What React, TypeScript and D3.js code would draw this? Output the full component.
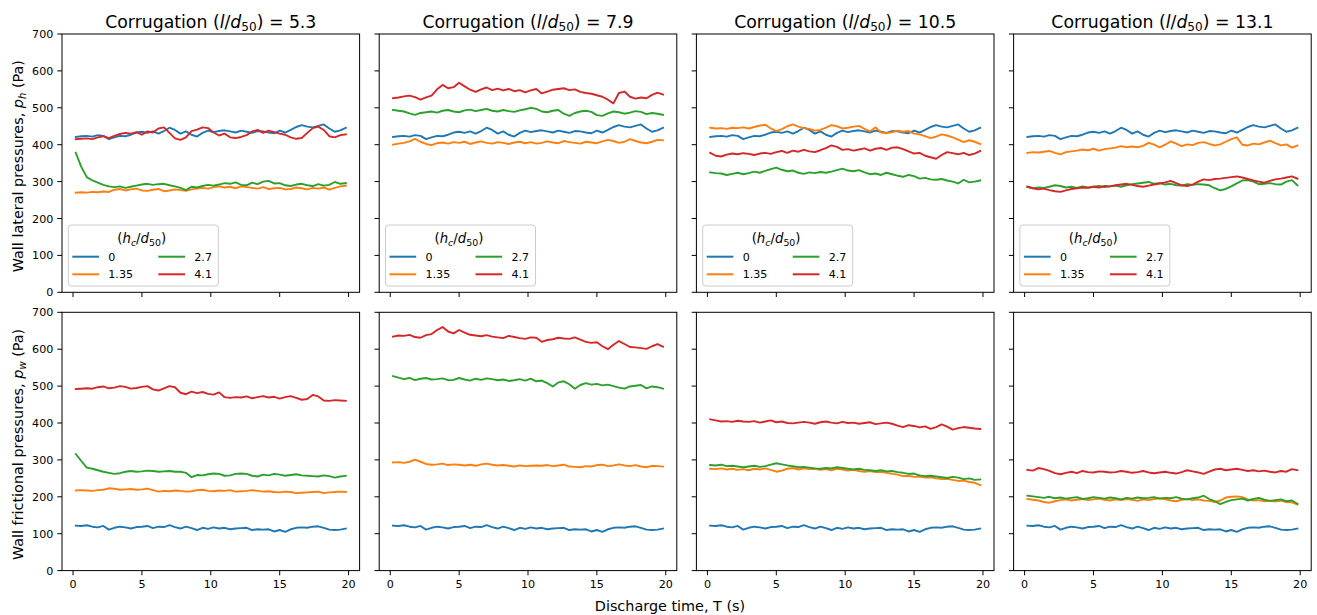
import React from "react";
import * as d3 from "d3";

// Discharge time (s)
const T = [0.2, 0.6, 1.0, 1.4, 1.8, 2.2, 2.6, 3.0, 3.4, 3.8, 4.2, 4.6, 5.0, 5.4, 5.8, 6.2, 6.6, 7.0, 7.4, 7.8, 8.2, 8.6, 9.0, 9.4, 9.8, 10.2, 10.6, 11.0, 11.4, 11.8, 12.2, 12.6, 13.0, 13.4, 13.8, 14.2, 14.6, 15.0, 15.4, 15.8, 16.2, 16.6, 17.0, 17.4, 17.8, 18.2, 18.6, 19.0, 19.4, 19.8];

const CORRUGATIONS = ["5.3", "7.9", "10.5", "13.1"];
const HC_LABELS = ["0", "1.35", "2.7", "4.1"];
const COLORS = ["#1f77b4", "#ff7f0e", "#2ca02c", "#d62728"];
const Y_TICKS = [0, 100, 200, 300, 400, 500, 600, 700];
const X_TICKS = [0, 5, 10, 15, 20];

// hc/d50 = 0 (smooth reference, same in every column)
const LAT_HC0 = [421, 423, 424, 422, 426, 424, 415, 420, 424, 423, 427, 433, 435, 432, 436, 430, 437, 446, 440, 430, 436, 427, 422, 432, 438, 434, 437, 439, 436, 433, 438, 435, 432, 437, 436, 433, 431, 438, 433, 440, 448, 453, 449, 447, 451, 455, 444, 435, 439, 446];
const FRIC_HC0 = [122, 121, 123, 119, 117, 121, 111, 116, 119, 117, 114, 118, 119, 121, 115, 119, 118, 123, 118, 114, 119, 115, 110, 116, 113, 117, 114, 116, 112, 114, 115, 116, 110, 112, 111, 112, 106, 110, 105, 112, 116, 117, 116, 119, 120, 116, 111, 110, 111, 114];

// Lateral pressures
const LAT_53_135 = [270, 271, 270, 272, 271, 273, 272, 278, 280, 276, 279, 281, 276, 275, 278, 280, 274, 276, 279, 277, 275, 279, 281, 283, 281, 285, 287, 284, 286, 282, 287, 285, 283, 281, 285, 280, 282, 283, 279, 280, 284, 282, 279, 283, 281, 284, 278, 283, 287, 289];
const LAT_53_27 = [378, 340, 312, 303, 297, 291, 287, 285, 287, 283, 286, 289, 292, 294, 291, 293, 294, 290, 287, 283, 277, 286, 284, 288, 291, 289, 292, 296, 294, 298, 291, 290, 297, 293, 300, 302, 295, 296, 290, 288, 292, 294, 290, 288, 293, 289, 291, 299, 294, 296];
const LAT_53_41 = [415, 416, 417, 415, 420, 423, 418, 424, 429, 432, 430, 434, 427, 436, 433, 444, 447, 432, 417, 413, 420, 437, 441, 447, 445, 433, 425, 430, 420, 418, 421, 426, 436, 440, 432, 438, 434, 430, 427, 420, 416, 418, 432, 445, 449, 440, 423, 420, 426, 428];

const LAT_79_135 = [400, 403, 405, 409, 416, 408, 402, 399, 404, 406, 403, 407, 405, 408, 402, 406, 409, 405, 403, 407, 405, 402, 406, 408, 404, 407, 403, 405, 409, 406, 404, 410, 407, 405, 403, 408, 406, 404, 409, 413, 410, 405, 408, 415, 410, 406, 404, 408, 413, 412];
const LAT_79_27 = [494, 492, 490, 485, 481, 486, 488, 490, 487, 492, 494, 490, 488, 493, 495, 491, 494, 497, 492, 490, 494, 491, 489, 493, 496, 500, 497, 490, 488, 492, 494, 484, 478, 486, 490, 492, 489, 480, 478, 485, 490, 488, 484, 487, 491, 489, 483, 486, 484, 481];
const LAT_79_41 = [526, 528, 531, 533, 529, 522, 528, 533, 550, 562, 553, 556, 568, 558, 549, 543, 550, 555, 548, 552, 547, 551, 545, 548, 542, 547, 551, 539, 544, 549, 551, 553, 548, 550, 543, 540, 538, 534, 530, 522, 512, 540, 544, 530, 525, 528, 526, 535, 541, 536];

const LAT_105_135 = [446, 444, 445, 443, 446, 445, 447, 444, 448, 452, 454, 444, 437, 442, 450, 455, 449, 445, 443, 438, 440, 446, 453, 450, 444, 446, 449, 451, 443, 436, 447, 433, 431, 434, 438, 435, 437, 430, 428, 423, 418, 422, 428, 425, 420, 414, 407, 412, 408, 402];
const LAT_105_27 = [325, 323, 322, 318, 321, 324, 320, 323, 327, 324, 329, 334, 338, 332, 328, 330, 324, 321, 325, 323, 326, 324, 327, 331, 335, 330, 328, 331, 325, 320, 322, 318, 324, 320, 316, 313, 318, 315, 308, 310, 306, 305, 307, 303, 300, 295, 305, 298, 300, 303];
const LAT_105_41 = [378, 370, 368, 373, 376, 374, 377, 375, 372, 376, 378, 375, 380, 383, 378, 384, 381, 386, 382, 380, 385, 391, 398, 394, 386, 388, 384, 387, 390, 384, 389, 391, 386, 392, 393, 388, 382, 376, 378, 370, 366, 362, 372, 380, 377, 374, 378, 372, 376, 383];

const LAT_131_135 = [378, 380, 379, 381, 383, 378, 374, 380, 382, 384, 387, 385, 389, 384, 388, 390, 392, 396, 393, 395, 393, 397, 405, 400, 393, 400, 409, 403, 396, 401, 399, 405, 407, 402, 398, 401, 408, 415, 420, 400, 398, 403, 401, 406, 411, 404, 398, 401, 392, 398];
const LAT_131_27 = [286, 282, 284, 283, 286, 290, 288, 284, 286, 283, 287, 284, 286, 288, 285, 287, 289, 286, 290, 293, 295, 297, 299, 294, 296, 292, 294, 290, 289, 293, 291, 293, 292, 290, 282, 276, 280, 287, 295, 303, 304, 300, 293, 294, 296, 293, 292, 300, 304, 290];
const LAT_131_41 = [286, 282, 279, 281, 277, 274, 272, 276, 280, 282, 284, 283, 286, 284, 288, 287, 290, 292, 294, 291, 288, 286, 289, 292, 295, 298, 302, 296, 290, 288, 292, 300, 306, 304, 307, 308, 310, 312, 314, 311, 307, 303, 300, 297, 302, 306, 308, 311, 314, 308];

// Frictional pressures
const FRIC_53_135 = [217, 218, 217, 216, 218, 219, 223, 222, 219, 220, 221, 219, 220, 222, 218, 214, 216, 215, 217, 216, 214, 215, 218, 219, 216, 215, 217, 216, 218, 214, 215, 216, 218, 216, 214, 215, 213, 212, 214, 213, 210, 211, 212, 213, 214, 210, 212, 213, 214, 213];
const FRIC_53_27 = [316, 297, 279, 276, 272, 268, 265, 262, 264, 268, 270, 268, 269, 271, 270, 268, 269, 270, 268, 268, 265, 253, 259, 258, 261, 263, 262, 257, 258, 262, 263, 262, 257, 255, 260, 258, 262, 260, 257, 259, 261, 258, 257, 256, 255, 258, 256, 252, 255, 257];
const FRIC_53_41 = [492, 493, 494, 493, 497, 499, 494, 496, 500, 498, 493, 495, 498, 500, 491, 488, 494, 500, 497, 482, 478, 485, 481, 484, 479, 477, 483, 470, 468, 470, 469, 472, 467, 470, 473, 469, 471, 466, 470, 473, 468, 463, 465, 476, 472, 461, 460, 462, 461, 460];

const FRIC_79_135 = [293, 294, 292, 295, 301, 295, 289, 287, 288, 290, 286, 288, 287, 285, 287, 284, 288, 290, 287, 285, 286, 284, 282, 285, 283, 284, 285, 284, 286, 283, 285, 287, 282, 281, 280, 283, 282, 286, 287, 283, 285, 288, 285, 283, 286, 282, 280, 284, 283, 282];
const FRIC_79_27 = [527, 523, 519, 522, 516, 520, 522, 518, 519, 521, 516, 517, 522, 518, 515, 520, 517, 521, 519, 516, 518, 514, 516, 519, 515, 520, 513, 515, 508, 499, 510, 513, 505, 493, 503, 508, 504, 506, 502, 504, 500, 496, 493, 499, 501, 503, 494, 499, 497, 493];
const FRIC_79_41 = [634, 637, 636, 639, 633, 631, 638, 641, 652, 660, 648, 643, 652, 645, 639, 637, 635, 638, 634, 632, 630, 636, 633, 630, 628, 632, 631, 620, 625, 627, 631, 629, 628, 632, 626, 620, 617, 619, 608, 600, 612, 622, 614, 606, 605, 603, 601, 608, 614, 607];

const FRIC_105_135 = [276, 275, 277, 274, 276, 273, 275, 272, 276, 274, 277, 273, 268, 271, 276, 278, 274, 277, 275, 276, 273, 275, 272, 276, 274, 271, 273, 270, 268, 270, 267, 268, 265, 262, 260, 256, 257, 254, 255, 252, 253, 250, 248, 249, 246, 243, 244, 240, 238, 232];
const FRIC_105_27 = [286, 285, 287, 283, 284, 282, 280, 282, 284, 281, 283, 287, 291, 288, 285, 283, 280, 281, 279, 277, 276, 278, 277, 280, 278, 276, 274, 276, 273, 272, 270, 272, 269, 270, 267, 265, 262, 263, 258, 256, 257, 255, 253, 251, 254, 252, 248, 250, 246, 247];
const FRIC_105_41 = [410, 407, 404, 405, 403, 406, 404, 403, 405, 401, 404, 407, 402, 404, 400, 399, 401, 403, 401, 398, 402, 404, 401, 399, 403, 400, 401, 398, 400, 402, 397, 399, 401, 398, 393, 389, 394, 392, 388, 391, 384, 389, 396, 390, 382, 386, 389, 387, 385, 384];

const FRIC_131_135 = [194, 192, 190, 186, 184, 188, 191, 193, 190, 192, 194, 191, 193, 195, 192, 190, 193, 191, 194, 192, 189, 193, 191, 194, 196, 193, 190, 188, 192, 194, 191, 193, 190, 189, 186, 190, 198, 200, 201, 199, 193, 190, 191, 188, 189, 187, 190, 186, 185, 179];
const FRIC_131_27 = [203, 201, 199, 197, 200, 196, 198, 195, 197, 199, 194, 196, 199, 197, 195, 198, 196, 193, 197, 195, 198, 196, 197, 199, 195, 197, 196, 199, 195, 193, 196, 198, 203, 194, 188, 180, 186, 191, 193, 195, 190, 194, 197, 192, 189, 191, 193, 188, 190, 181];
const FRIC_131_41 = [273, 271, 278, 275, 270, 264, 261, 265, 268, 264, 270, 267, 266, 269, 268, 266, 267, 270, 268, 265, 267, 270, 266, 264, 266, 268, 265, 263, 267, 272, 269, 266, 262, 268, 274, 276, 272, 274, 276, 273, 270, 272, 269, 271, 268, 266, 270, 268, 275, 272];

const LATERAL = [
  [LAT_HC0, LAT_53_135, LAT_53_27, LAT_53_41],
  [LAT_HC0, LAT_79_135, LAT_79_27, LAT_79_41],
  [LAT_HC0, LAT_105_135, LAT_105_27, LAT_105_41],
  [LAT_HC0, LAT_131_135, LAT_131_27, LAT_131_41],
];
const FRICTIONAL = [
  [FRIC_HC0, FRIC_53_135, FRIC_53_27, FRIC_53_41],
  [FRIC_HC0, FRIC_79_135, FRIC_79_27, FRIC_79_41],
  [FRIC_HC0, FRIC_105_135, FRIC_105_27, FRIC_105_41],
  [FRIC_HC0, FRIC_131_135, FRIC_131_27, FRIC_131_41],
];

const W = 1317;
const H = 615;
const LEFT0 = 62;
const PW = 297.6;
const PGAP = 19.6;
const TOPS = [34, 312.3];
const PH = 258.3;
const FONT = "DejaVu Sans, sans-serif";
const TICK = 4.7;

function Legend({ x0, y1 }: { x0: number; y1: number }) {
  const bx = x0 + 6.3;
  const bh = 61;
  const by = y1 - 6.3 - bh;
  const bw = 150;
  const cols = [
    [0, 1],
    [2, 3],
  ];
  return (
    <g>
      <rect x={bx} y={by} width={bw} height={bh} rx={3} ry={3} fill="white" fillOpacity={0.8} stroke="#cccccc" strokeWidth={1} />
      <text x={bx + 73.4} y={by + 18.3} fontSize={13.3} textAnchor="middle" fontFamily={FONT} fill="#000">
        (<tspan fontStyle="italic">h</tspan>
        <tspan fontSize={9.4} dy={2.7} fontStyle="italic">c</tspan>
        <tspan dy={-2.7}>/</tspan>
        <tspan fontStyle="italic">d</tspan>
        <tspan fontSize={9.4} dy={2.7}>50</tspan>
        <tspan dy={-2.7}>)</tspan>
      </text>
      {cols.map((col, ci) =>
        col.map((si, ri) => {
          const hx = bx + 4 + ci * 86;
          const hy = by + 31.7 + ri * 17.6;
          return (
            <g key={si}>
              <line x1={hx} x2={hx + 26.7} y1={hy} y2={hy} stroke={COLORS[si]} strokeWidth={2} />
              <text x={hx + 36} y={hy + 4} fontSize={11.1} fontFamily={FONT} fill="#000">
                {HC_LABELS[si]}
              </text>
            </g>
          );
        })
      )}
    </g>
  );
}

function Panel({ col, row, series }: { col: number; row: number; series: number[][] }) {
  const x0 = LEFT0 + col * (PW + PGAP);
  const y0 = TOPS[row];
  const x = d3.scaleLinear().domain([-0.8, 20.8]).range([x0, x0 + PW]);
  const y = d3.scaleLinear().domain([0, 700]).range([y0 + PH, y0]);
  const line = d3
    .line<number>()
    .x((_, i) => x(T[i]))
    .y((d) => y(d));
  return (
    <g>
      {series.map((s, i) => (
        <path key={i} d={line(s) || ""} fill="none" stroke={COLORS[i]} strokeWidth={1.9} strokeLinejoin="round" strokeLinecap="square" />
      ))}
      <rect x={x0} y={y0} width={PW} height={PH} fill="none" stroke="#000" strokeWidth={1} />
      {Y_TICKS.map((t) => (
        <g key={"y" + t}>
          <line x1={x0 - TICK} x2={x0} y1={y(t)} y2={y(t)} stroke="#000" strokeWidth={1} />
          {col === 0 && (
            <text x={x0 - 8.7} y={y(t) + 4} fontSize={11.1} textAnchor="end" fontFamily={FONT} fill="#000">
              {t}
            </text>
          )}
        </g>
      ))}
      {X_TICKS.map((t) => (
        <g key={"x" + t}>
          <line x1={x(t)} x2={x(t)} y1={y0 + PH} y2={y0 + PH + TICK} stroke="#000" strokeWidth={1} />
          {row === 1 && (
            <text x={x(t)} y={y0 + PH + 17.5} fontSize={11.1} textAnchor="middle" fontFamily={FONT} fill="#000">
              {t}
            </text>
          )}
        </g>
      ))}
      {row === 0 && (
        <text x={x0 + PW / 2} y={27.7} fontSize={17.3} textAnchor="middle" fontFamily={FONT} fill="#000">
          Corrugation (<tspan fontStyle="italic">l</tspan>/<tspan fontStyle="italic">d</tspan>
          <tspan fontSize={12.1} dy={3}>50</tspan>
          <tspan dy={-3}>) = {CORRUGATIONS[col]}</tspan>
        </text>
      )}
      {row === 0 && <Legend x0={x0} y1={y0 + PH} />}
    </g>
  );
}

export default function App() {
  const rowCenters = TOPS.map((t) => t + PH / 2 + 3);
  return (
    <svg width={W} height={H} style={{ position: "absolute", left: 0, top: 0, background: "#fff" }}>
      <rect x={0} y={0} width={W} height={H} fill="#fff" />
      {LATERAL.map((s, c) => (
        <Panel key={"l" + c} col={c} row={0} series={s} />
      ))}
      {FRICTIONAL.map((s, c) => (
        <Panel key={"f" + c} col={c} row={1} series={s} />
      ))}
      <text transform={`translate(23,${rowCenters[0]}) rotate(-90)`} fontSize={14.4} textAnchor="middle" fontFamily={FONT} fill="#000">
        Wall lateral pressures, <tspan fontStyle="italic">p</tspan>
        <tspan fontSize={10} dy={2.8} fontStyle="italic">h</tspan>
        <tspan dy={-2.8}> (Pa)</tspan>
      </text>
      <text transform={`translate(23,${rowCenters[1]}) rotate(-90)`} fontSize={14.4} textAnchor="middle" fontFamily={FONT} fill="#000">
        Wall frictional pressures, <tspan fontStyle="italic">p</tspan>
        <tspan fontSize={10} dy={2.8} fontStyle="italic">w</tspan>
        <tspan dy={-2.8}> (Pa)</tspan>
      </text>
      <text x={670} y={611} fontSize={14.4} textAnchor="middle" fontFamily={FONT} fill="#000">
        Discharge time, T (s)
      </text>
    </svg>
  );
}
